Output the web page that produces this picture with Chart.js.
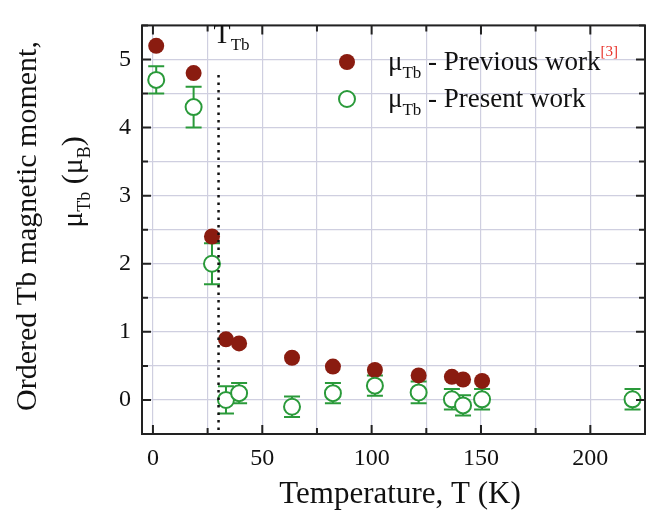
<!DOCTYPE html>
<html>
<head>
<meta charset="utf-8">
<script src="https://cdn.jsdelivr.net/npm/chart.js@4.4.0/dist/chart.umd.min.js"></script>
<style>
html, body { margin: 0; padding: 0; background: #ffffff; }
#wrap { width: 655px; height: 517px; }
</style>
</head>
<body>
<div id="wrap"><canvas id="chart"></canvas></div>
<script>
// previous work (filled)
const prev_T  = [1.5, 18.6, 27, 33.4, 39.4, 63.6, 82.3, 101.5, 121.5, 136.7, 141.8, 150.5];
const prev_mu = [5.2, 4.8, 2.4, 0.89, 0.83, 0.62, 0.49, 0.44, 0.36, 0.34, 0.30, 0.28];

// present work (open) with error bars
const pres_T   = [1.5, 18.6, 27, 33.4, 39.4, 63.6, 82.3, 101.5, 121.5, 136.7, 141.8, 150.5, 219.3];
const pres_mu  = [4.7, 4.3, 2.0, 0.0, 0.1, -0.1, 0.1, 0.21, 0.11, 0.01, -0.08, 0.01, 0.01];
const pres_err = [0.2, 0.3, 0.3, 0.2, 0.15, 0.15, 0.15, 0.15, 0.16, 0.15, 0.15, 0.15, 0.15];

// T_Tb marker line
const t_tb = 30;
const t_tb_line_mu = [4.77, -0.5];

const x_range = [-5, 225];
const y_range = [-0.5, 5.5];

const red = "#8a1c10";
const green = "#2a9a3a";
const serif = "'Liberation Serif', 'DejaVu Serif', serif";

function draw_rich(ctx, parts, x, y)
{
    // parts: [text, size, dy, color]
    let cx = x;
    for (const p of parts)
    {
        ctx.font = p[1] + "px " + serif;
        ctx.fillStyle = p[3] || "#111111";
        ctx.fillText(p[0], cx, y + (p[2] || 0));
        cx += ctx.measureText(p[0]).width;
    }
    return cx - x;
}

function rich_width(ctx, parts)
{
    let w = 0;
    for (const p of parts)
    {
        ctx.font = p[1] + "px " + serif;
        w += ctx.measureText(p[0]).width;
    }
    return w;
}

const extras =
{
    id: "extras",
    beforeDatasetsDraw(chart)
    {
        const ctx = chart.ctx, xs = chart.scales.x, ys = chart.scales.y;
        ctx.save();
        ctx.strokeStyle = green;
        ctx.lineWidth = 2;
        for (let i = 0; i < pres_T.length; i++)
        {
            const px = xs.getPixelForValue(pres_T[i]);
            const top = ys.getPixelForValue(pres_mu[i] + pres_err[i]);
            const bot = ys.getPixelForValue(pres_mu[i] - pres_err[i]);
            ctx.beginPath();
            ctx.moveTo(px, top); ctx.lineTo(px, bot);
            ctx.moveTo(px - 8, top); ctx.lineTo(px + 8, top);
            ctx.moveTo(px - 8, bot); ctx.lineTo(px + 8, bot);
            ctx.stroke();
        }
        ctx.restore();
    },
    afterDraw(chart)
    {
        const ctx = chart.ctx, xs = chart.scales.x, ys = chart.scales.y;
        const a = chart.chartArea;
        ctx.save();

        // frame
        ctx.strokeStyle = "#222222";
        ctx.lineWidth = 2;
        ctx.strokeRect(a.left, a.top, a.right - a.left, a.bottom - a.top);

        // inward ticks
        ctx.beginPath();
        for (let v = 0; v <= 225; v += 25)
        {
            const px = xs.getPixelForValue(v);
            const len = v % 50 === 0 ? 9 : 6;
            ctx.moveTo(px, a.bottom); ctx.lineTo(px, a.bottom - len);
            ctx.moveTo(px, a.top); ctx.lineTo(px, a.top + len);
        }
        for (let v = -0.5; v <= 5.5; v += 0.5)
        {
            const py = ys.getPixelForValue(v);
            const len = Number.isInteger(v) ? 9 : 6;
            ctx.moveTo(a.left, py); ctx.lineTo(a.left + len, py);
            ctx.moveTo(a.right, py); ctx.lineTo(a.right - len, py);
        }
        ctx.stroke();

        ctx.textBaseline = "alphabetic";
        ctx.textAlign = "left";

        // x title
        ctx.font = "31px " + serif;
        ctx.fillStyle = "#111111";
        ctx.textAlign = "center";
        ctx.fillText("Temperature, T (K)", 400, 503);
        ctx.textAlign = "left";

        // y title
        ctx.save();
        ctx.translate(36, 226);
        ctx.rotate(-Math.PI / 2);
        ctx.font = "30px " + serif;
        ctx.textAlign = "center";
        ctx.fillText("Ordered Tb magnetic moment,", 0, 0);
        ctx.restore();

        ctx.save();
        ctx.translate(82, 182);
        ctx.rotate(-Math.PI / 2);
        const l2 = [["\u03bc", 30, 0], ["Tb", 18, 8], [" (\u03bc", 30, 0], ["B", 18, 8], [")", 30, 0]];
        draw_rich(ctx, l2, -rich_width(ctx, l2) / 2, 0);
        ctx.restore();

        // T_Tb label
        draw_rich(ctx, [["T", 28, 0], ["Tb", 17, 7]], xs.getPixelForValue(t_tb) - 5, 43);

        // legend
        ctx.beginPath();
        ctx.arc(347, 62, 8, 0, Math.PI * 2);
        ctx.fillStyle = red;
        ctx.fill();
        ctx.beginPath();
        ctx.arc(347, 99, 8, 0, Math.PI * 2);
        ctx.fillStyle = "#ffffff";
        ctx.fill();
        ctx.strokeStyle = green;
        ctx.lineWidth = 2;
        ctx.stroke();

        draw_rich(ctx, [["\u03bc", 27, 0], ["Tb", 17, 8], [" - Previous work", 27, 0], ["[3]", 15, -14, "#e8322a"]], 388, 70);
        draw_rich(ctx, [["\u03bc", 27, 0], ["Tb", 17, 8], [" - Present work", 27, 0]], 388, 107);

        ctx.restore();
    }
};

const data =
{
    datasets:
        [
            {
                type: "line",
                label: "T_Tb",
                data: t_tb_line_mu.map(v => ({ x: t_tb, y: v })),
                borderColor: "#111111",
                borderWidth: 2.5,
                borderDash: [2.5, 5],
                pointRadius: 0,
                fill: false
            },
            {
                type: "scatter",
                label: "Present work",
                data: pres_T.map((t, i) => ({ x: t, y: pres_mu[i] })),
                pointStyle: "circle",
                pointRadius: 8,
                pointBackgroundColor: "#ffffff",
                pointBorderColor: green,
                pointBorderWidth: 2
            },
            {
                type: "scatter",
                label: "Previous work",
                data: prev_T.map((t, i) => ({ x: t, y: prev_mu[i] })),
                pointStyle: "circle",
                pointRadius: 8,
                pointBackgroundColor: red,
                pointBorderColor: red,
                pointBorderWidth: 0
            }
        ]
};

const config =
{
    data,
    options:
    {
        responsive: true,
        maintainAspectRatio: false,
        animation: false,
        layout:
        {
            padding: { top: 6, right: 7, left: 0, bottom: 0 }
        },
        scales:
        {
            x:
            {
                type: "linear",
                min: x_range[0],
                max: x_range[1],
                afterFit: s => { s.height = 83; },
                grid: { color: "#cfcfe0", lineWidth: 1.2, drawTicks: false },
                border: { display: false },
                ticks:
                {
                    stepSize: 25,
                    includeBounds: false,
                    autoSkip: false,
                    maxRotation: 0,
                    padding: 10,
                    color: "#111111",
                    font: { family: serif, size: 24 },
                    callback: v => (v % 50 === 0 ? String(v) : "")
                }
            },
            y:
            {
                type: "linear",
                min: y_range[0],
                max: y_range[1],
                afterFit: s => { s.width = 142; },
                grid: { color: "#cfcfe0", lineWidth: 1.2, drawTicks: false },
                border: { display: false },
                ticks:
                {
                    stepSize: 0.5,
                    includeBounds: false,
                    autoSkip: false,
                    padding: 11,
                    color: "#111111",
                    font: { family: serif, size: 24 },
                    callback: v => (Number.isInteger(v) ? String(v) : "")
                }
            }
        },
        plugins:
        {
            legend: { display: false },
            tooltip: { enabled: false }
        }
    },
    plugins: [extras]
};

new Chart(document.getElementById("chart"), config);
</script>
</body>
</html>
